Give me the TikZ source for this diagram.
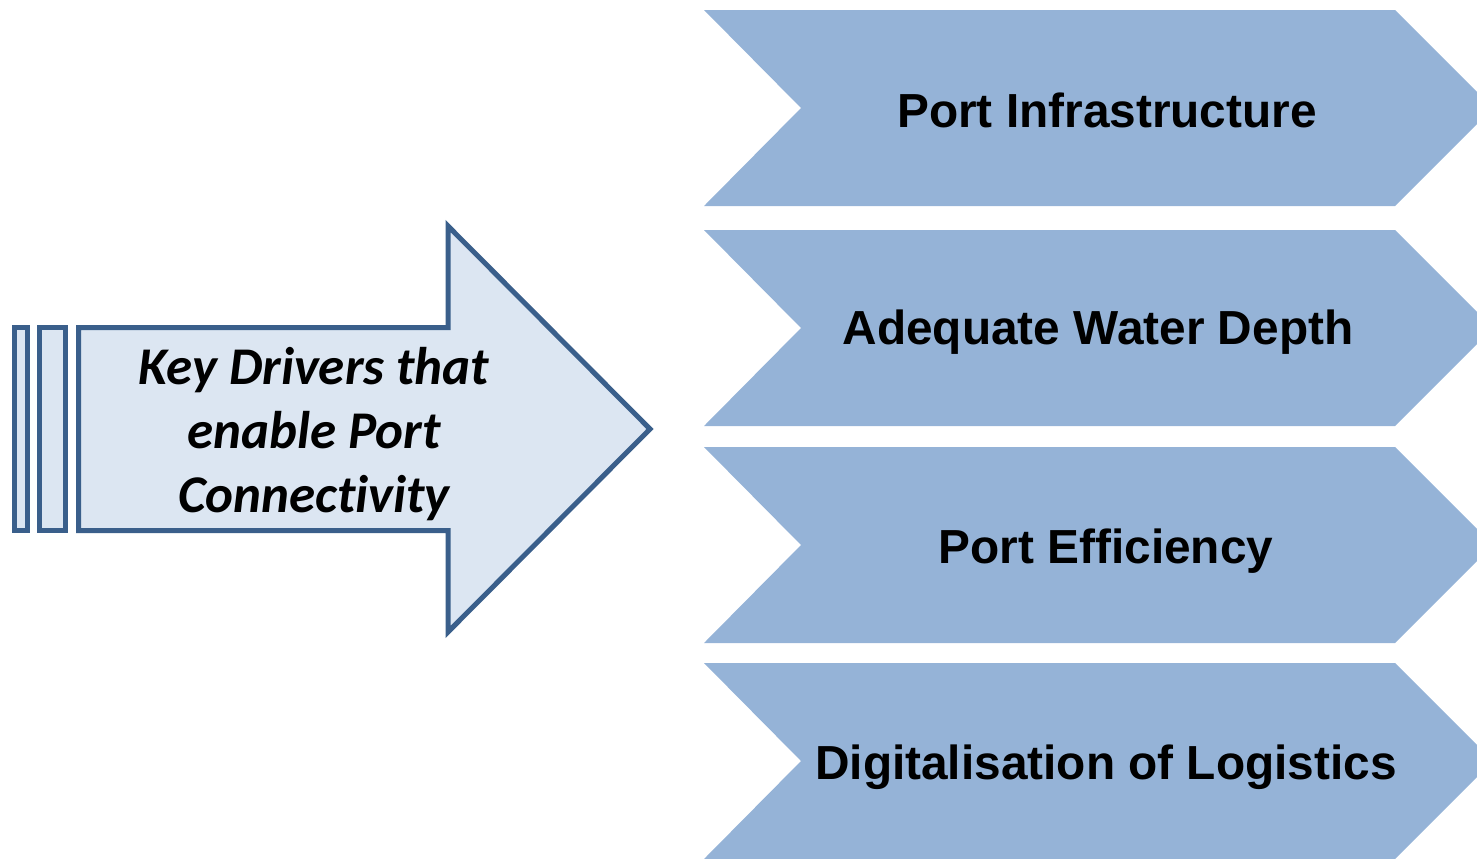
\documentclass[tikz,border=0pt]{standalone}
\usepackage{fontspec}
\setmainfont{Liberation Sans}
\newfontfamily\calfont[Ligatures=NoCommon]{Carlito}
\definecolor{chevfill}{HTML}{95B3D7}
\definecolor{arrowfill}{HTML}{DCE6F2}
\definecolor{arrowline}{HTML}{3A5F8B}

\begin{document}
\begin{tikzpicture}[x=0.5pt,y=-0.5pt,
  chev/.style={fill=chevfill},
  drv/.style={draw=arrowline,fill=arrowfill,line width=2.5pt,miter limit=10},
  every node/.style={align=center,text=black}]
\useasboundingbox (0,0) rectangle (1477,858);
\clip (0,0) rectangle (1477,858);
% chevrons, 196 high, notch and tip at 45 degrees
\fill[chev] (704,10)--(1395,10)--(1493,108)--(1395,206)--(704,206)--(801,108)--cycle;
\fill[chev] (704,230)--(1395,230)--(1493,328)--(1395,426)--(704,426)--(801,328)--cycle;
\fill[chev] (704,447)--(1395,447)--(1493,545)--(1395,643)--(704,643)--(801,545)--cycle;
\fill[chev] (704,663)--(1395,663)--(1493,761)--(1395,859)--(704,859)--(801,761)--cycle;
\node[font=\bfseries\fontsize{23.9}{28}\selectfont] (infra) at (1107,110) {Port Infrastructure};
\node[font=\bfseries\fontsize{23.9}{28}\selectfont] (depth) at (1098,332) {Adequate Water Depth};
\node[font=\bfseries\fontsize{23.9}{28}\selectfont] (effic) at (1106,551) {Port Efficiency};
\node[font=\bfseries\fontsize{23.9}{28}\selectfont] (digit) at (1106,767) {Digitalisation of Logistics};
% striped arrow on the left
\draw[drv] (14.5,327.5) rectangle (27.5,530.5);
\draw[drv] (39.5,327.5) rectangle (65.5,530.5);
\draw[drv] (78.5,327.5)--(448,327.5)--(448,226)--(650,429)--(448,632)--(448,530.5)--(78.5,530.5)--cycle;
\node[font=\calfont\bfseries\itshape\fontsize{26.5}{32}\selectfont] (key) at (314,434)
  {Key Drivers that\\enable Port\\Connectivity};
\end{tikzpicture}
\end{document}
